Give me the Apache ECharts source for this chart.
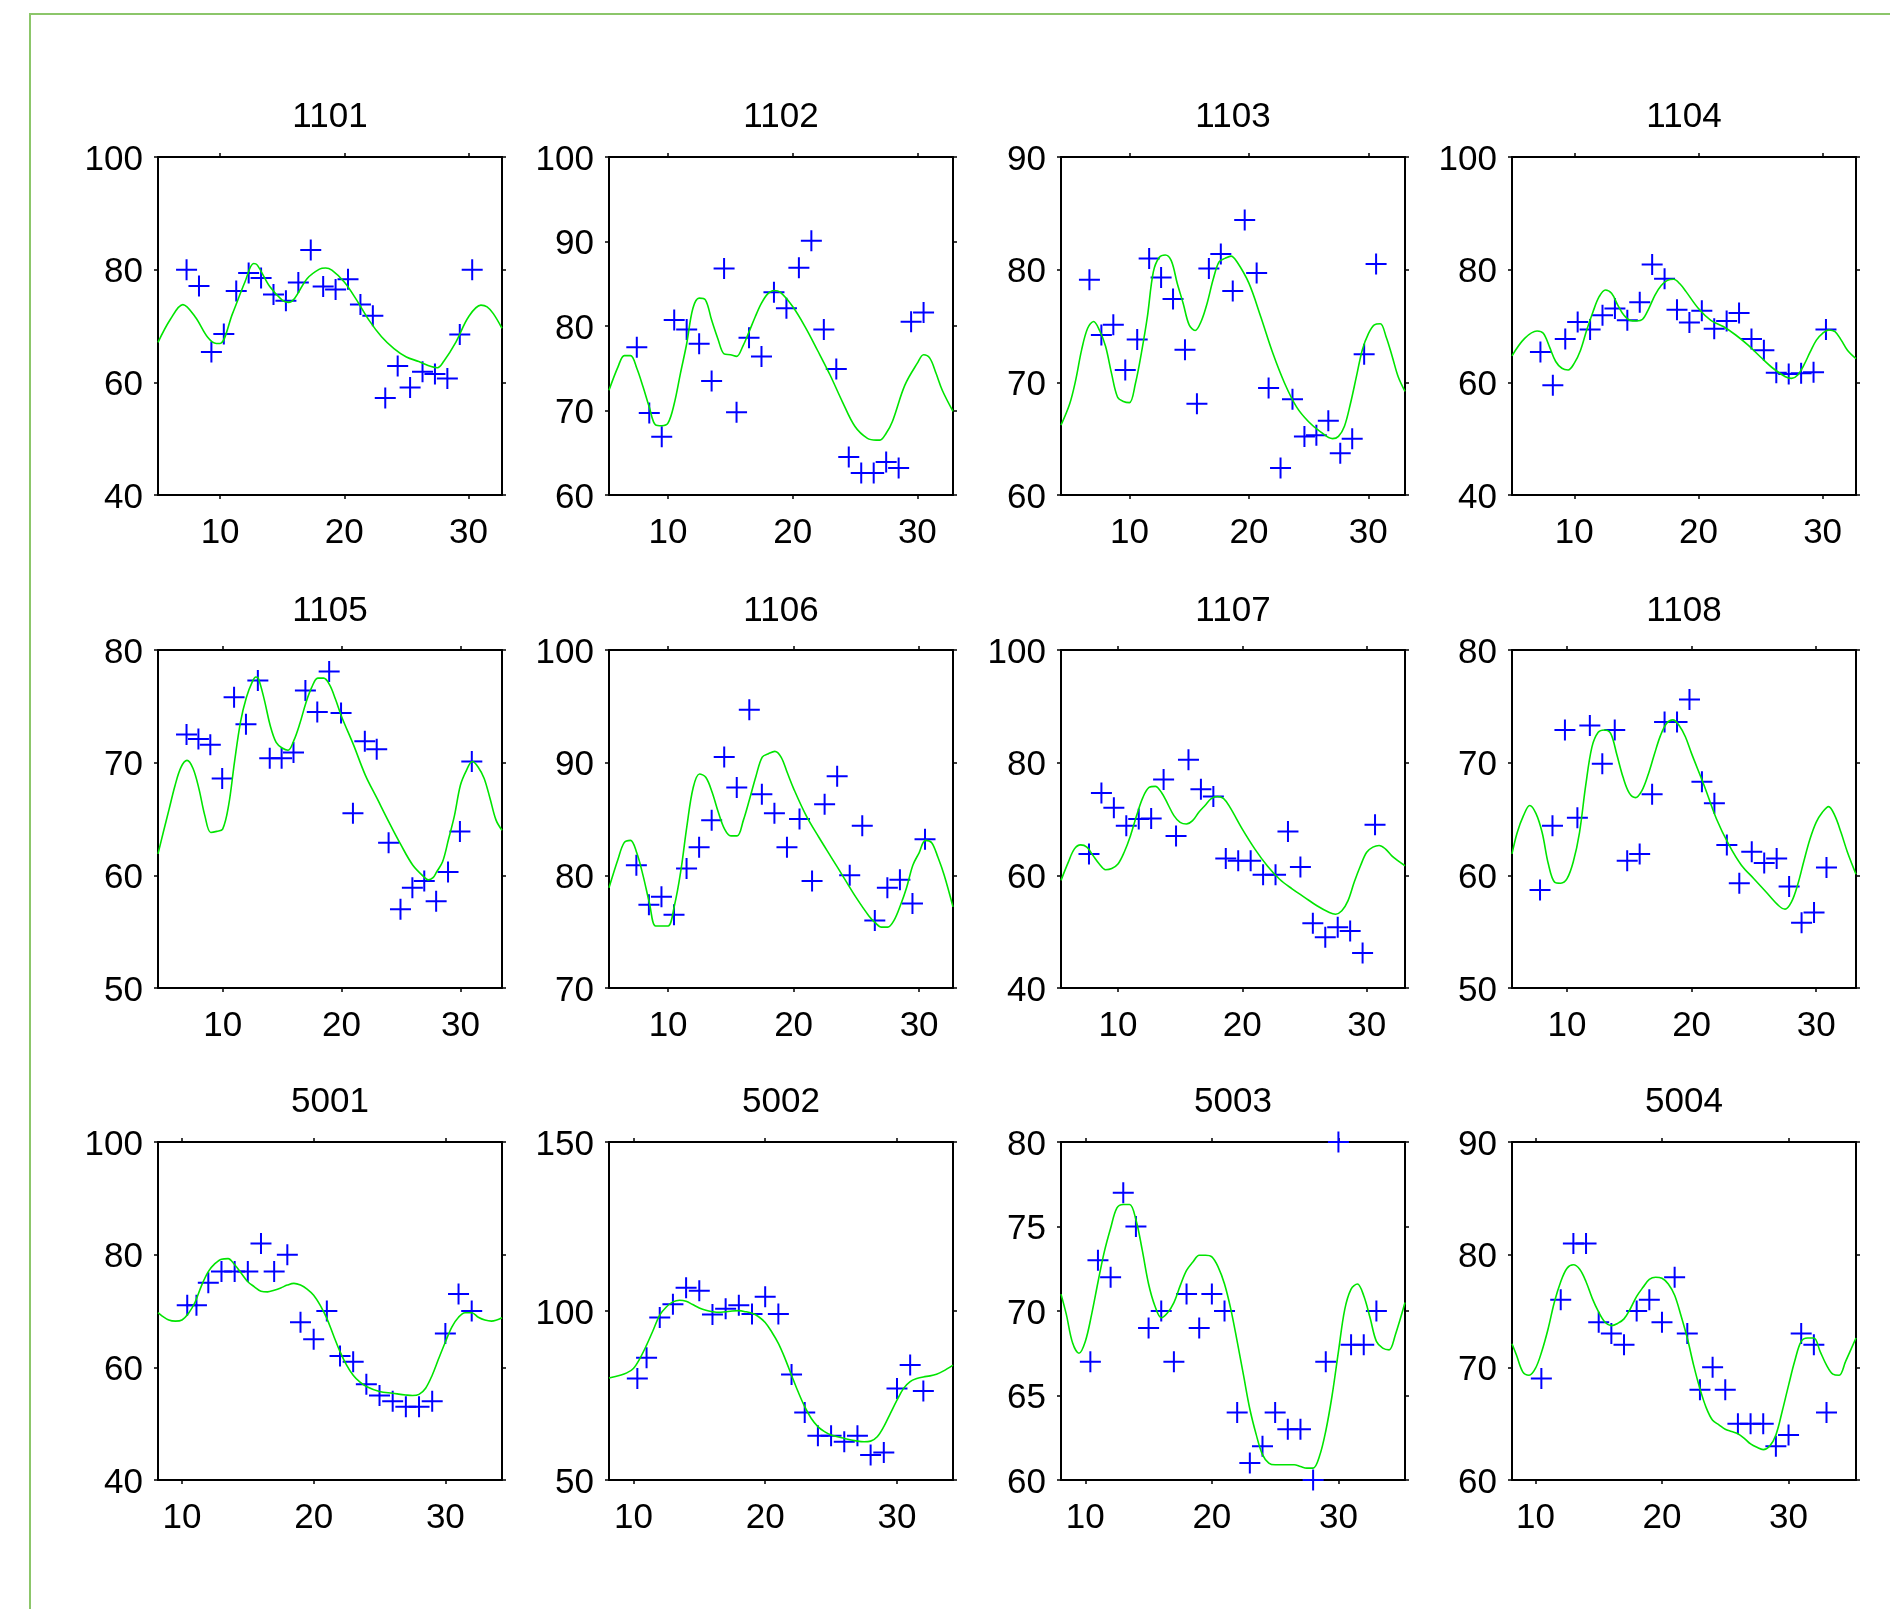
<!DOCTYPE html>
<html>
<head>
<meta charset="utf-8">
<script src="https://cdn.jsdelivr.net/npm/echarts@6/dist/echarts.min.js"></script>
<style>
html,body{margin:0;padding:0;background:#fff;}
#chart{width:1890px;height:1609px;}
</style>
</head>
<body>
<div id="chart"></div>
<script>
// ---------- DATA ----------
const panelNames = ['1101','1102','1103','1104','1105','1106','1107','1108','5001','5002','5003','5004'];
const xTickValues = [10, 20, 30];

// x-axis extent per panel [min, max]
const xExtent1101 = [5.0, 32.7];
const xExtent1102 = [5.27, 32.86];
const xExtent1103 = [4.27, 33.07];
const xExtent1104 = [4.98, 32.69];
const xExtent1105 = [4.56, 33.5];
const xExtent1106 = [5.29, 32.7];
const xExtent1107 = [5.42, 33.08];
const xExtent1108 = [5.58, 33.2];
const xExtent5001 = [8.18, 34.3];
const xExtent5002 = [8.15, 34.25];
const xExtent5003 = [8.08, 35.26];
const xExtent5004 = [8.15, 35.33];

// y-axis [min, max, step] per panel
const yScale1101 = [40, 100, 20];
const yScale1102 = [60, 100, 10];
const yScale1103 = [60, 90, 10];
const yScale1104 = [40, 100, 20];
const yScale1105 = [50, 80, 10];
const yScale1106 = [70, 100, 10];
const yScale1107 = [40, 100, 20];
const yScale1108 = [50, 80, 10];
const yScale5001 = [40, 100, 20];
const yScale5002 = [50, 150, 50];
const yScale5003 = [60, 80, 5];
const yScale5004 = [60, 90, 10];

// observations: x positions and values
const obsX1101 = [7.3,8.3,9.3,10.3,11.3,12.3,13.3,14.3,15.3,16.3,17.3,18.3,19.3,20.3,21.3,22.3,23.3,24.3,25.3,26.3,27.3,28.3,29.3,30.3];
const obsY1101 = [80.0,77.1,65.4,68.6,76.2,79.4,78.5,75.6,74.5,77.7,83.5,77.0,76.5,78.3,73.8,71.8,57.2,62.9,59.1,61.9,61.5,60.7,68.5,80.0];
const obsX1102 = [7.5,8.5,9.5,10.5,11.5,12.5,13.5,14.5,15.5,16.5,17.5,18.5,19.5,20.5,21.5,22.5,23.5,24.5,25.5,26.5,27.5,28.5,29.5,30.5];
const obsY1102 = [77.5,69.7,66.9,80.7,79.6,77.9,73.5,86.8,69.8,78.6,76.4,84.0,82.1,86.9,90.1,79.6,74.9,64.5,62.6,62.6,63.9,63.2,80.5,81.6];
const obsX1103 = [6.65,7.65,8.65,9.65,10.65,11.65,12.65,13.65,14.65,15.65,16.65,17.65,18.65,19.65,20.65,21.65,22.65,23.65,24.65,25.65,26.65,27.65,28.65,29.65,30.65];
const obsY1103 = [79.1,74.2,75.1,71.1,73.8,81.0,79.3,77.4,72.9,68.1,80.1,81.4,78.1,84.4,79.7,69.5,62.4,68.5,65.2,65.3,66.6,63.7,65.0,72.5,80.5];
const obsX1104 = [7.27,8.27,9.27,10.27,11.27,12.27,13.27,14.27,15.27,16.27,17.27,18.27,19.27,20.27,21.27,22.27,23.27,24.27,25.27,26.27,27.27,28.27,29.27,30.27];
const obsY1104 = [65.4,59.5,67.7,70.7,69.4,71.9,73.1,71.0,74.2,80.9,78.4,72.9,70.6,72.7,69.5,70.9,72.3,67.7,65.7,61.7,61.5,61.6,61.8,69.4];
const obsX1105 = [6.96,7.96,8.96,9.96,10.96,11.96,12.96,13.96,14.96,15.96,16.96,17.96,18.96,19.96,20.96,21.96,22.96,23.96,24.96,25.96,26.96,27.96,28.96,29.96,30.96];
const obsY1105 = [72.5,72.1,71.6,68.6,75.8,73.4,77.3,70.4,70.4,70.9,76.4,74.5,78.1,74.4,65.5,71.9,71.2,62.9,57.0,58.9,59.5,57.7,60.3,63.9,70.1];
const obsX1106 = [7.47,8.47,9.47,10.47,11.47,12.47,13.47,14.47,15.47,16.47,17.47,18.47,19.47,20.47,21.47,22.47,23.47,24.47,25.47,26.47,27.47,28.47,29.47,30.47];
const obsY1106 = [80.9,77.4,78.1,76.5,80.6,82.5,84.9,90.5,87.8,94.7,87.2,85.5,82.5,85.0,79.5,86.3,88.8,80.0,84.4,76.0,78.9,79.6,77.5,83.2];
const obsX1107 = [7.67,8.67,9.67,10.67,11.67,12.67,13.67,14.67,15.67,16.67,17.67,18.67,19.67,20.67,21.67,22.67,23.67,24.67,25.67,26.67,27.67,28.67,29.67,30.67];
const obsY1107 = [63.8,74.6,72.0,68.8,70.0,70.1,77.0,67.0,80.5,75.3,74.0,63.0,62.6,62.6,60.1,60.1,67.8,61.5,51.5,49.0,50.8,50.1,46.2,69.0];
const obsX1108 = [7.83,8.83,9.83,10.83,11.83,12.83,13.83,14.83,15.83,16.83,17.83,18.83,19.83,20.83,21.83,22.83,23.83,24.83,25.83,26.83,27.83,28.83,29.83,30.83];
const obsY1108 = [58.7,64.4,72.9,65.1,73.3,69.9,72.9,61.3,61.9,67.2,73.6,73.6,75.6,68.3,66.4,62.7,59.3,62.1,61.1,61.5,59.0,55.8,56.7,60.7];
const obsX5001 = [10.4,11.1,12,13,14,15,16,17,18,19,20,21,22,23,24,25,26,27,28,29,30,31,32];
const obsY5001 = [71,71,75,77,77,77,82,77,80,68,65,70,62,61,57,55,54,53,53,54,66,73,70];
const obsX5002 = [10.3,11,12,13,14,15,16,17,18,19,20,21,22,23,24,25,26,27,28,29,30,31,32];
const obsY5002 = [80.0,86.2,98.1,102.0,106.9,106.0,99.0,100.7,101.7,99.1,104.2,99.1,81.2,70.0,63.1,63.1,61.3,63.1,57.4,58.1,77.1,84.0,76.3];
const obsX5003 = [10.4,11,12,13,14,15,16,17,18,19,20,21,22,23,24,25,26,27,28,29,30,31,32,33];
const obsY5003 = [67,73,72,77,75,69,70,67,71,69,71,70,64,61,62,64,63,63,60,67,80,68,68,70];
const obsX5004 = [10.47,12,13,14,15,16,17,18,19,20,21,22,23,24,25,26,27,28,29,30,31,32,33];
const obsY5004 = [69,76,81,81,74,73,72,75,76,74,78,73,68,70,68,65,65,65,63,64,73,72,66];

// fitted curves: x positions and values
const fitX1101 = [5,6,7,8,9,9.7,10,11,12,12.7,13,14,15,15.5,16,17,18,18.5,19,20,21,22,23,24,25,26,27,27.5,28,29,30,31,31.5,32,32.7];
const fitY1101 = [67.1,71.2,73.8,71.6,68.0,66.9,66.9,72.2,77.8,81.1,80.8,77.0,74.6,74.2,74.9,78.4,80.1,80.3,79.9,77.8,74.6,71.0,68.1,66.0,64.5,63.7,62.8,62.6,63.7,67.2,71.6,73.7,73.4,72.2,69.6];
const fitX1102 = [5.27,6,6.5,7,7.5,8,8.5,9,9.5,10,10.5,11,11.5,12,12.5,13,13.5,14,14.5,15,15.5,16,16.5,17,17.5,18,18.5,19,20,21,22,23,24,25,26,26.7,27,27.5,28,29,30,30.5,31,31.5,32,32.86];
const fitY1102 = [72.4,75.2,76.5,76.5,75.0,72.8,70.4,68.3,68.2,68.5,70.8,74.4,77.9,82.1,83.3,83.1,80.7,78.5,76.7,76.6,76.4,77.6,79.3,81.1,82.7,83.8,84.2,84.0,82.3,79.9,77.1,74.2,71.0,68.1,66.7,66.5,66.5,67.3,68.7,73.0,75.6,76.6,76.2,74.4,72.4,69.9];
const fitX1103 = [4.27,5,5.5,6,6.5,7,7.5,8,8.5,9,9.5,10,10.5,11,11.5,12,12.5,13,13.5,14,14.5,15,15.5,16,16.5,17,17.5,18,18.5,19,20,21,22,23,24,25,26,27,27.5,28,28.5,29,29.5,30,30.5,31,31.5,32,32.5,33.07];
const fitY1103 = [66.2,68.1,70.2,72.9,74.8,75.4,74.6,73.2,70.8,68.7,68.3,68.2,69.9,72.6,75.8,79.8,81.1,81.3,80.8,78.8,77.0,75.1,74.6,75.4,77.0,79.1,80.7,81.0,81.2,80.7,78.8,75.8,72.6,69.9,67.8,66.5,65.6,65.0,65.2,66.1,68.1,70.5,72.9,74.3,75.1,75.2,74.0,72.3,70.5,69.2];
const fitX1104 = [4.98,6,7,7.5,8,8.5,9,9.5,10,10.5,11,11.5,12,12.5,13,13.5,14,14.5,15,15.5,16,16.5,17,17.5,18,18.5,19,20,21,22,23,24,25,26,27,27.5,28,28.5,29,29.5,30,30.5,31,31.5,32,32.69];
const fitY1104 = [64.7,67.8,69.1,68.7,66.3,63.7,62.5,62.2,63.4,65.7,69.3,72.5,75.2,76.4,75.8,73.7,71.9,71.0,70.9,71.2,73.1,75.5,77.2,78.1,78.3,77.5,76.1,73.1,71.0,69.9,68.4,66.6,64.5,62.5,61.0,60.7,61.3,63.1,65.4,67.5,68.7,69.3,69.0,67.5,65.7,64.2];
const fitX1105 = [4.56,5,5.5,6,6.5,7,7.5,8,8.5,9,9.5,10,10.5,11,11.5,12,12.5,12.8,13,13.5,14,14.5,15,15.5,16,16.5,17,17.5,18,18.5,19,19.5,20,21,22,23,24,25,26,27,27.3,27.7,28,28.5,29,29.5,30,30.5,31,31.5,32,32.5,33,33.5];
const fitY1105 = [61.9,63.8,65.9,68.0,69.6,70.2,69.5,67.7,65.3,63.8,63.9,64.1,66.2,70.1,73.6,75.8,77.2,77.6,77.5,75.6,73.3,71.8,71.3,71.1,72.0,73.5,75.3,76.7,77.5,77.5,76.9,75.6,74.1,71.6,68.9,66.8,64.7,62.7,60.9,59.8,59.6,59.8,60.3,61.2,63.2,65.3,68.0,69.3,70.1,69.6,68.6,66.8,64.9,64.0];
const fitX1106 = [5.29,6,6.5,7,7.5,8,8.5,9,9.5,10,10.5,11,11.5,12,12.5,13,13.5,14,14.5,15,15.5,16,16.5,17,17.5,18,18.5,19,19.5,20,21,22,23,24,25,26,26.5,27,27.5,28,28.5,29,29.5,30,30.5,31,31.5,32,32.7];
const fitY1106 = [78.9,81.4,82.9,83.1,82.0,80.0,77.6,75.5,75.5,75.5,77.3,80.3,84.4,87.8,89.0,88.7,87.4,85.6,84.1,83.5,83.5,84.9,86.8,88.8,90.5,90.8,91.0,90.5,89.1,87.7,85.3,83.4,81.6,79.8,78.0,76.4,75.8,75.4,75.4,76.0,77.3,78.9,80.9,82.0,83.1,82.9,81.6,80.0,77.2];
const fitX1107 = [5.42,6,6.5,7,7.5,8,8.5,9,9.5,10,10.5,11,11.5,12,12.5,13,13.5,14,14.5,15,15.5,16,16.5,17,17.5,18,18.5,19,20,21,22,23,24,25,26,27,27.5,28,28.5,29,29.5,30,30.5,31,31.5,32,32.5,33.08];
const fitY1107 = [59.1,62.3,64.7,65.4,65.0,63.5,62.0,61.0,61.2,62.0,64.1,67.0,70.6,73.8,75.6,75.8,74.7,72.7,70.6,69.4,69.1,69.7,71.2,72.4,73.6,74.0,73.6,72.1,68.2,64.7,61.7,59.3,57.6,56.1,54.6,53.4,53.1,53.7,55.5,58.8,61.7,64.1,65.0,65.3,64.7,63.5,62.6,61.7];
const fitX1108 = [5.58,6,6.5,7,7.5,8,8.5,9,9.5,10,10.5,11,11.5,12,12.5,13,13.5,14,14.5,15,15.5,16,16.5,17,17.5,18,18.5,19,19.5,20,21,22,23,24,25,26,27,27.5,28,28.5,29,29.5,30,30.5,31,31.5,32,32.5,33.2];
const fitY1108 = [61.9,63.8,65.3,66.2,65.5,63.8,61.0,59.4,59.3,59.7,61.2,63.8,68.0,71.4,72.7,72.9,72.6,70.7,68.7,67.3,66.9,67.5,68.9,70.7,72.4,73.5,73.8,73.3,72.3,70.8,68.0,65.0,62.7,60.9,59.7,58.5,57.3,57.0,57.6,59.1,61.2,63.2,64.7,65.6,66.1,65.3,63.8,62.1,60.1];
const fitX5001 = [8.18,8.5,9,9.5,10,10.5,11,11.5,12,12.5,13,13.5,14,14.5,15,15.5,16,16.5,17,17.5,18,18.5,19,19.5,20,20.5,21,21.5,22,22.5,23,23.5,24,25,26,27,27.5,28,28.5,29,29.5,30,30.5,31,31.5,32,32.5,33,33.5,34.3];
const fitY5001 = [69.7,69.1,68.4,68.2,68.4,69.6,71.6,74.6,77.0,78.4,79.2,79.3,78.2,76.7,75.2,74.3,73.5,73.4,73.7,74.1,74.6,74.9,74.6,73.9,72.8,71.0,68.7,65.7,62.8,60.4,58.6,57.4,56.6,55.7,55.4,55.1,55.0,55.2,56.3,58.6,61.6,64.5,67.2,68.9,69.7,69.7,68.9,68.4,68.2,68.8];
const fitX5002 = [8.15,9,9.5,10,10.5,11,11.5,12,12.5,13,13.5,14,14.5,15,15.5,16,16.5,17,17.5,18,18.5,19,19.5,20,20.5,21,21.5,22,22.5,23,23.5,24,24.5,25,26,27,27.5,28,28.5,29,29.5,30,30.5,31,31.5,32,32.5,33,33.5,34.25];
const fitY5002 = [80.2,81.0,81.7,83.0,86.0,89.9,94.3,98.8,101.2,102.7,103.2,102.9,101.9,100.9,100.2,99.8,99.6,99.8,100.0,100.1,99.8,99.3,98.3,96.6,93.8,90.4,86.0,81.0,76.1,71.7,68.2,65.8,64.3,63.3,62.3,61.5,61.3,61.5,62.8,65.8,69.7,73.6,77.1,79.1,80.0,80.5,80.8,81.3,82.2,84.0];
const fitX5003 = [8.08,8.5,9,9.5,10,10.5,11,11.5,12,12.5,13,13.5,14,14.5,15,15.5,16,16.5,17,17.5,18,18.5,19,19.5,20,20.5,21,21.5,22,22.5,23,23.5,24,24.5,25,25.5,26,26.5,27,27.5,28,28.5,29,29.5,30,30.5,31,31.5,32,32.5,33,33.5,34,34.5,35.26];
const fitY5003 = [71.0,69.8,68.1,67.5,68.2,69.8,71.7,73.5,74.9,76.1,76.3,76.3,75.4,73.6,71.6,70.3,69.6,69.9,70.5,71.5,72.4,72.9,73.3,73.3,73.2,72.6,71.6,70.1,68.2,66.2,64.2,62.7,61.5,61.0,60.9,60.9,60.9,60.9,60.8,60.7,60.7,61.4,62.9,65.0,67.6,70.1,71.3,71.6,70.9,69.6,68.2,67.8,67.7,68.6,70.5];
const fitX5004 = [8.15,8.5,9,9.5,10,10.5,11,11.5,12,12.5,13,13.5,14,14.5,15,15.5,16,16.5,17,17.5,18,18.5,19,19.5,20,20.5,21,21.5,22,22.5,23,23.5,24,24.5,25,25.5,26,26.5,27,27.5,28,28.5,29,29.5,30,30.5,31,31.5,32,32.5,33,33.5,34,34.5,35.33];
const fitY5004 = [72.1,71.1,69.6,69.3,69.9,71.4,73.4,75.8,77.6,78.8,79.1,78.7,77.6,76.1,74.9,74.0,73.7,73.9,74.3,75.2,76.3,77.1,77.8,78.0,77.9,77.4,76.4,74.6,72.6,70.2,68.1,66.4,65.3,64.9,64.5,64.3,64.1,63.7,63.2,62.9,62.7,63.0,64.0,66.1,68.4,70.6,72.3,72.6,72.6,71.4,70.2,69.4,69.3,70.5,72.6];

// ---------- BUILD ----------
const panels = [
  [xExtent1101, yScale1101, obsX1101, obsY1101, fitX1101, fitY1101],
  [xExtent1102, yScale1102, obsX1102, obsY1102, fitX1102, fitY1102],
  [xExtent1103, yScale1103, obsX1103, obsY1103, fitX1103, fitY1103],
  [xExtent1104, yScale1104, obsX1104, obsY1104, fitX1104, fitY1104],
  [xExtent1105, yScale1105, obsX1105, obsY1105, fitX1105, fitY1105],
  [xExtent1106, yScale1106, obsX1106, obsY1106, fitX1106, fitY1106],
  [xExtent1107, yScale1107, obsX1107, obsY1107, fitX1107, fitY1107],
  [xExtent1108, yScale1108, obsX1108, obsY1108, fitX1108, fitY1108],
  [xExtent5001, yScale5001, obsX5001, obsY5001, fitX5001, fitY5001],
  [xExtent5002, yScale5002, obsX5002, obsY5002, fitX5002, fitY5002],
  [xExtent5003, yScale5003, obsX5003, obsY5003, fitX5003, fitY5003],
  [xExtent5004, yScale5004, obsX5004, obsY5004, fitX5004, fitY5004]
];

const FONT = '"Liberation Sans", Arial, Helvetica, sans-serif';
const gridLefts = [158, 609, 1061, 1512];
const gridTops = [157, 650, 1142];
const gridW = 344, gridH = 338;
const titleCenterY = [117, 611, 1102];

const grids = [], xAxes = [], yAxes = [], series = [], graphics = [];
const lineAxis = {show: true, onZero: false, lineStyle: {color: '#000', width: 2}};
const tickStyle = {show: true, inside: false, length: 4, lineStyle: {color: '#000', width: 1.5}};

panels.forEach((p, i) => {
  const [xe, ys, ox, oy, fx, fy] = p;
  const r = Math.floor(i / 4), c = i % 4;
  grids.push({left: gridLefts[c], top: gridTops[r], width: gridW, height: gridH, containLabel: false});
  // bottom x
  xAxes.push({
    gridIndex: i, type: 'value', position: 'bottom', min: xe[0], max: xe[1],
    axisLine: lineAxis,
    axisTick: Object.assign({}, tickStyle, {customValues: xTickValues}),
    axisLabel: {show: true, customValues: xTickValues, fontSize: 35, color: '#000', fontFamily: FONT, margin: 21},
    splitLine: {show: false}
  });
  // top x (mirror)
  xAxes.push({
    gridIndex: i, type: 'value', position: 'top', min: xe[0], max: xe[1],
    axisLine: lineAxis,
    axisTick: Object.assign({}, tickStyle, {customValues: xTickValues}),
    axisLabel: {show: false},
    splitLine: {show: false}
  });
  // left y
  yAxes.push({
    gridIndex: i, type: 'value', position: 'left', min: ys[0], max: ys[1], interval: ys[2],
    axisLine: lineAxis,
    axisTick: tickStyle,
    axisLabel: {
      show: true, margin: 15, formatter: '{v|{value}}',
      rich: {v: {fontSize: 35, color: '#000', fontFamily: FONT, padding: [6, 0, 0, 0]}}
    },
    splitLine: {show: false}
  });
  // right y (mirror)
  yAxes.push({
    gridIndex: i, type: 'value', position: 'right', min: ys[0], max: ys[1], interval: ys[2],
    axisLine: lineAxis,
    axisTick: tickStyle,
    axisLabel: {show: false},
    splitLine: {show: false}
  });
  series.push({
    type: 'scatter', name: panelNames[i] + ' observed',
    xAxisIndex: 2 * i, yAxisIndex: 2 * i,
    data: ox.map((x, k) => [x, oy[k]]),
    symbol: 'path://M0,-10L0,10M-10,0L10,0',
    symbolSize: 21,
    clip: false,
    itemStyle: {color: 'none', borderColor: '#0000ff', borderWidth: 2, opacity: 1},
    z: 3
  });
  series.push({
    type: 'line', name: panelNames[i] + ' fit',
    xAxisIndex: 2 * i, yAxisIndex: 2 * i,
    data: fx.map((x, k) => [x, fy[k]]),
    showSymbol: false, symbol: 'none', smooth: 0.35,
    lineStyle: {color: '#00e400', width: 1.6},
    z: 4
  });
  graphics.push({
    type: 'text', x: gridLefts[c] + gridW / 2, y: titleCenterY[r],
    style: {text: panelNames[i], fontSize: 35, fontFamily: FONT, fill: '#000', textAlign: 'center', textVerticalAlign: 'middle'}
  });
});

// outer frame
graphics.push({
  type: 'rect', shape: {x: 30, y: 14, width: 1900, height: 1700},
  style: {fill: 'none', stroke: '#8cc66a', lineWidth: 2}, silent: true
});

const chart = echarts.init(document.getElementById('chart'), null, {renderer: 'canvas'});
chart.setOption({
  animation: false,
  backgroundColor: '#ffffff',
  grid: grids,
  xAxis: xAxes,
  yAxis: yAxes,
  series: series,
  graphic: graphics
});
</script>
</body>
</html>
